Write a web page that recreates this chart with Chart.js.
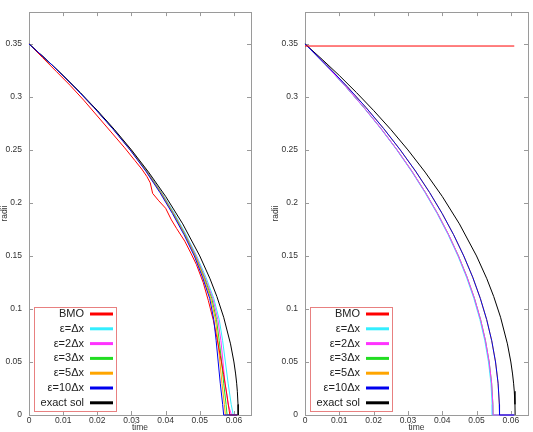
<!DOCTYPE html>
<html>
<head>
<meta charset="utf-8">
<script src="https://cdn.jsdelivr.net/npm/chart.js@4.4.0/dist/chart.umd.min.js"></script>
<style>
body { margin: 0; background: #fff; }
#wrap { position: relative; width: 533px; height: 432px; }
canvas { position: absolute; top: 0; }
#left { left: 0; }
#right { left: 266px; }
</style>
</head>
<body>
<div id="wrap">
<canvas id="left" width="266" height="432"></canvas>
<canvas id="right" width="267" height="432"></canvas>
</div>
<script>
// axes
var xTicks = [0, 0.01, 0.02, 0.03, 0.04, 0.05, 0.06];
var xTickLabels = ['0', '0.01', '0.02', '0.03', '0.04', '0.05', '0.06'];
var yTicks = [0, 0.05, 0.1, 0.15, 0.2, 0.25, 0.3, 0.35];
var yTickLabels = ['0', '0.05', '0.1', '0.15', '0.2', '0.25', '0.3', '0.35'];
var legendLabels = ['BMO', 'ε=Δx', 'ε=2Δx', 'ε=3Δx', 'ε=5Δx', 'ε=10Δx', 'exact sol'];

// exact solution (same on both panels)
var exactT = [0, 0.005, 0.01, 0.015, 0.02, 0.025, 0.03, 0.035, 0.04, 0.045, 0.05, 0.053, 0.055, 0.057, 0.059, 0.060, 0.0605, 0.0608, 0.0610, 0.0612, 0.06125];
var exactR = [0.35, 0.3354, 0.3202, 0.3041, 0.2872, 0.2693, 0.25, 0.2291, 0.2062, 0.1803, 0.15, 0.1285, 0.1118, 0.0922, 0.0671, 0.05, 0.0387, 0.03, 0.0224, 0.01, 0];

var radiusLevels = [0.35, 0.33, 0.31, 0.29, 0.27, 0.25, 0.23, 0.21, 0.19, 0.17, 0.15, 0.13, 0.11, 0.09, 0.07, 0.05, 0.03, 0.01, 0, 0];

// left panel
var bmoLeftT = [0, 0.004, 0.008, 0.012, 0.016, 0.020, 0.024, 0.028, 0.031, 0.033, 0.0345, 0.0355, 0.0362, 0.038, 0.040, 0.0417, 0.0432, 0.0456, 0.0475, 0.049, 0.051, 0.0525, 0.054, 0.055, 0.056, 0.057, 0.058, 0.0588, 0.061];
var bmoLeftR = [0.35, 0.337, 0.324, 0.311, 0.297, 0.282, 0.267, 0.252, 0.240, 0.232, 0.225, 0.219, 0.209, 0.202, 0.195, 0.184, 0.176, 0.164, 0.152, 0.142, 0.125, 0.108, 0.089, 0.073, 0.056, 0.038, 0.018, 0, 0];
var eps1LeftT = [0, 0.0068, 0.0131, 0.0191, 0.0247, 0.0298, 0.0345, 0.0388, 0.0426, 0.0460, 0.0491, 0.0518, 0.0541, 0.0557, 0.0567, 0.0575, 0.0583, 0.0592, 0.0598, 0.061];
var eps2LeftT = [0, 0.0068, 0.0131, 0.0191, 0.0246, 0.0298, 0.0345, 0.0387, 0.0424, 0.0458, 0.0489, 0.0515, 0.0538, 0.0553, 0.0562, 0.0568, 0.0574, 0.0583, 0.0593, 0.061];
var eps3LeftT = [0, 0.0068, 0.0131, 0.0191, 0.0246, 0.0297, 0.0344, 0.0386, 0.0423, 0.0457, 0.0487, 0.0513, 0.0535, 0.0549, 0.0557, 0.0564, 0.0570, 0.0577, 0.0580, 0.061];
var eps5LeftT = [0, 0.0068, 0.0131, 0.0190, 0.0246, 0.0297, 0.0343, 0.0385, 0.0422, 0.0456, 0.0486, 0.0511, 0.0532, 0.0546, 0.0553, 0.0559, 0.0565, 0.0572, 0.0575, 0.061];
var eps10LeftT = [0, 0.0068, 0.0131, 0.0190, 0.0245, 0.0296, 0.0342, 0.0383, 0.0420, 0.0454, 0.0484, 0.0508, 0.0529, 0.0541, 0.0548, 0.0554, 0.0560, 0.0567, 0.0570, 0.061];

// right panel
var bmoRightT = [0, 0.061];
var bmoRightR = [0.348, 0.348];
var eps1RightT = [0, 0.00606, 0.01177, 0.01712, 0.02211, 0.02674, 0.03102, 0.03494, 0.03851, 0.04172, 0.04457, 0.04707, 0.04921, 0.05099, 0.05242, 0.05349, 0.0542, 0.05455, 0.0546, 0.061];
var eps2RightT = [0, 0.00608, 0.01181, 0.01718, 0.02219, 0.02684, 0.03114, 0.03507, 0.03865, 0.04187, 0.04473, 0.04724, 0.04939, 0.05118, 0.05261, 0.05368, 0.0544, 0.05476, 0.0548, 0.061];
var eps3RightT = [0, 0.00608, 0.01181, 0.01718, 0.02219, 0.02684, 0.03114, 0.03507, 0.03865, 0.04187, 0.04473, 0.04724, 0.04939, 0.05118, 0.05261, 0.05368, 0.0544, 0.05476, 0.0548, 0.061];
var eps5RightT = [0, 0.00629, 0.01222, 0.01778, 0.02296, 0.02777, 0.03222, 0.03629, 0.03999, 0.04332, 0.04628, 0.04888, 0.0511, 0.05295, 0.05443, 0.05554, 0.05628, 0.05665, 0.0567, 0.061];
var eps10RightT = [0, 0.00629, 0.01222, 0.01778, 0.02296, 0.02777, 0.03222, 0.03629, 0.03999, 0.04332, 0.04628, 0.04888, 0.0511, 0.05295, 0.05443, 0.05554, 0.05628, 0.05665, 0.0567, 0.061];

var colors = ['#ff0000', '#33eeff', '#ff33ff', '#22dd22', '#ffa500', '#0000ee', '#000000'];

Chart.defaults.font.family = "'Liberation Sans', Arial, sans-serif";

function pts(ts, rs) {
  return ts.map(function (t, i) { return { x: t, y: rs[i] }; });
}

// idx -> legend entry, ord -> draw order (lower is on top)
function ds(idx, ts, rs, ord) {
  return {
    label: legendLabels[idx],
    data: pts(ts, rs),
    showLine: true,
    borderColor: colors[idx],
    backgroundColor: colors[idx],
    borderWidth: 1,
    pointRadius: 0,
    tension: 0,
    clip: false,
    order: ord
  };
}

var framePlugin = {
  id: 'frame',
  beforeDatasetsDraw: function (chart) {
    var ctx = chart.ctx, a = chart.chartArea;
    var sx = chart.scales.x, sy = chart.scales.y;
    ctx.save();
    ctx.strokeStyle = '#9a9a9a';
    ctx.lineWidth = 1;
    ctx.strokeRect(Math.round(a.left) + 0.5, Math.round(a.top) + 0.5, Math.round(a.right - a.left), Math.round(a.bottom - a.top));
    ctx.beginPath();
    xTicks.forEach(function (v) {
      var px = Math.round(sx.getPixelForValue(v)) + 0.5;
      ctx.moveTo(px, a.bottom); ctx.lineTo(px, a.bottom - 4);
      ctx.moveTo(px, a.top); ctx.lineTo(px, a.top + 4);
    });
    yTicks.forEach(function (v) {
      var py = Math.round(sy.getPixelForValue(v)) + 0.5;
      ctx.moveTo(a.left, py); ctx.lineTo(a.left + 4, py);
      ctx.moveTo(a.right, py); ctx.lineTo(a.right - 4, py);
    });
    ctx.stroke();
    ctx.restore();
  }
};

var legendPlugin = {
  id: 'boxLegend',
  afterDraw: function (chart) {
    var ctx = chart.ctx, a = chart.chartArea;
    var x0 = Math.round(a.left) + 5, x1 = Math.round(a.left) + 87;
    var y1 = Math.round(a.bottom) - 4, y0 = y1 - 104;
    ctx.save();
    ctx.fillStyle = '#fff';
    ctx.fillRect(x0, y0, x1 - x0, y1 - y0);
    ctx.strokeStyle = '#e88080';
    ctx.lineWidth = 1;
    ctx.strokeRect(x0 + 0.5, y0 + 0.5, x1 - x0, y1 - y0);
    ctx.font = "11px 'Liberation Sans', Arial, sans-serif";
    ctx.textAlign = 'right';
    ctx.textBaseline = 'middle';
    legendLabels.forEach(function (lab, i) {
      var y = y0 + 7 + i * 14.8;
      ctx.fillStyle = '#222';
      ctx.fillText(lab, x0 + 50, y);
      ctx.strokeStyle = colors[i];
      ctx.lineWidth = 3;
      ctx.beginPath();
      ctx.moveTo(x0 + 56, y);
      ctx.lineTo(x0 + 79, y);
      ctx.stroke();
    });
    ctx.restore();
  }
};

function makeChart(id, datasets, yAxisWidth, padRight, titleOffset) {
  return new Chart(id, {
    type: 'scatter',
    data: { datasets: datasets },
    options: {
      responsive: false,
      animation: false,
      devicePixelRatio: 1,
      layout: { padding: { top: 5, right: padRight, left: 0, bottom: 0 } },
      plugins: { legend: { display: false }, tooltip: { enabled: false } },
      scales: {
        x: {
          type: 'linear', min: 0, max: 0.065,
          grid: { display: false, drawTicks: false },
          border: { display: false },
          afterBuildTicks: function (s) { s.ticks = xTicks.map(function (v) { return { value: v }; }); },
          afterFit: function (s) { s.height = 17; },
          ticks: {
            padding: 1, autoSkip: false, maxRotation: 0, color: '#333',
            font: { size: 8.5 },
            callback: function (v, i) { return xTickLabels[i]; }
          },
          title: { display: true, text: 'time', color: '#333', font: { size: 8.5 }, padding: { top: 0, bottom: -1 } }
        },
        y: {
          type: 'linear', min: 0, max: 0.38,
          grid: { display: false, drawTicks: false },
          border: { display: false },
          afterBuildTicks: function (s) { s.ticks = yTicks.map(function (v) { return { value: v }; }); },
          afterFit: function (s) { s.width = yAxisWidth; },
          ticks: {
            padding: 7, autoSkip: false, color: '#333',
            font: { size: 8.5 },
            callback: function (v, i) { return yTickLabels[i]; }
          },
          title: { display: true, text: 'radii', color: '#333', font: { size: 8.5 }, padding: { top: titleOffset, bottom: 0 } }
        }
      }
    },
    plugins: [framePlugin, legendPlugin]
  });
}

makeChart('left', [
  ds(5, eps10LeftT, radiusLevels, 0),
  ds(6, exactT, exactR, 1),
  ds(0, bmoLeftT, bmoLeftR, 2),
  ds(4, eps5LeftT, radiusLevels, 3),
  ds(3, eps3LeftT, radiusLevels, 4),
  ds(2, eps2LeftT, radiusLevels, 5),
  ds(1, eps1LeftT, radiusLevels, 6)
], 29, 15, 0);

makeChart('right', [
  ds(0, bmoRightT, bmoRightR, 0),
  ds(5, eps10RightT, radiusLevels, 1),
  ds(6, exactT, exactR, 2),
  ds(2, eps2RightT, radiusLevels, 3),
  ds(1, eps1RightT, radiusLevels, 4),
  ds(4, eps5RightT, radiusLevels, 5),
  ds(3, eps3RightT, radiusLevels, 6)
], 39, 5, 5);
</script>
</body>
</html>
